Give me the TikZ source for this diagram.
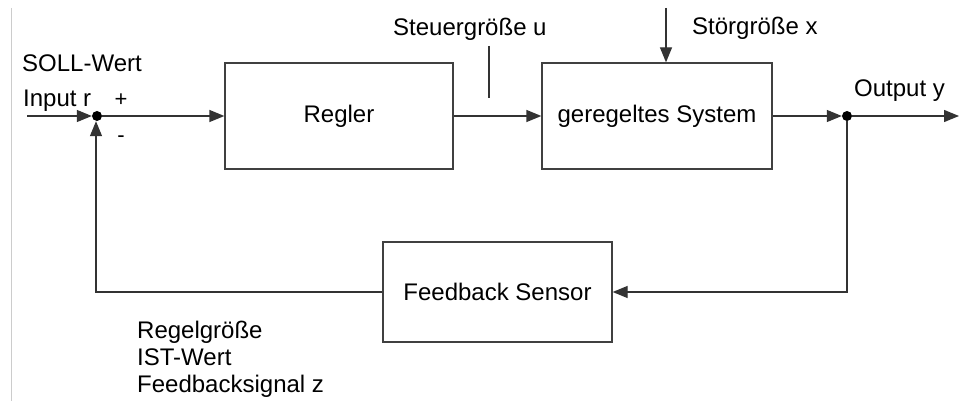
\documentclass[tikz,border=0pt]{standalone}
\usepackage{fontspec}
\setmainfont{Liberation Sans}
\usetikzlibrary{arrows.meta}

\tikzset{
  wire/.style={draw=black!80, line width=1.3pt},
  sig/.style={wire, -{Triangle[length=15pt,width=12pt]}},
  block/.style={draw=black!75, line width=1.3pt, fill=white, inner sep=0pt},
  junction/.style={circle, fill=black, inner sep=0pt, minimum size=10pt},
  lbl/.style={inner sep=0pt, anchor=base west, font=\fontsize{24}{28}\selectfont},
}

\begin{document}
\begin{tikzpicture}[x=1pt, y=-1pt]
  \useasboundingbox (0,0) rectangle (961,401);
  \fill[white] (0,0) rectangle (961,401);

  % thin margin rule on the left
  \draw[black!20, line width=1pt] (11,8) -- (11,401);

  % blocks
  \node[block, minimum width=228pt, minimum height=106pt, font=\fontsize{24}{28}\selectfont]
    (regler) at (339,116) {Regler};
  \node[block, minimum width=230pt, minimum height=106pt, font=\fontsize{24}{28}\selectfont]
    (plant) at (657,116) {geregeltes System};
  \node[block, minimum width=229pt, minimum height=100pt, font=\fontsize{24}{28}\selectfont]
    (sensor) at (497.5,292) {Feedback Sensor};

  % junctions
  \node[junction] (sum) at (97,116) {};
  \node[junction] (tap) at (847,116) {};

  % free ends
  \coordinate (in)   at (27,116);
  \coordinate (out)  at (959,116);
  \coordinate (dist) at (666,8);
  \coordinate (uTop) at (489,46);
  \coordinate (uBot) at (489,98);
  \coordinate (fbR)  at (847,292);
  \coordinate (fbL)  at (96,292);

  % forward path
  \draw[sig] (in) -- (sum);
  \draw[sig] (sum) -- (regler.west);
  \draw[sig] (regler.east) -- (plant.west);
  \draw[sig] (plant.east) -- (tap);
  \draw[sig] (tap) -- (out);

  % disturbance input
  \draw[sig] (dist) -- (dist |- plant.north);

  % marker for the control variable
  \draw[wire] (uTop) -- (uBot);

  % feedback path
  \draw[sig] (tap) -- (fbR) -- (sensor.east);
  \draw[sig] (sensor.west) -- (fbL) -- (fbL |- sum.south);

  % labels
  \node[lbl] at (22,72)  {SOLL-Wert};
  \node[lbl] at (23,107) {Input r};
  \node[font=\fontsize{22}{26}\selectfont, inner sep=0pt] at (121,100) {+};
  \node[font=\fontsize{22}{26}\selectfont, inner sep=0pt] at (121,139) {-};
  \node[lbl] at (393,36)  {Steuergröße u};
  \node[lbl] at (692,35)  {Störgröße x};
  \node[lbl] at (854,97)  {Output y};
  \node[lbl] at (137,338) {Regelgröße};
  \node[lbl] at (137,365) {IST-Wert};
  \node[lbl] at (137,392) {Feedbacksignal z};
\end{tikzpicture}
\end{document}
